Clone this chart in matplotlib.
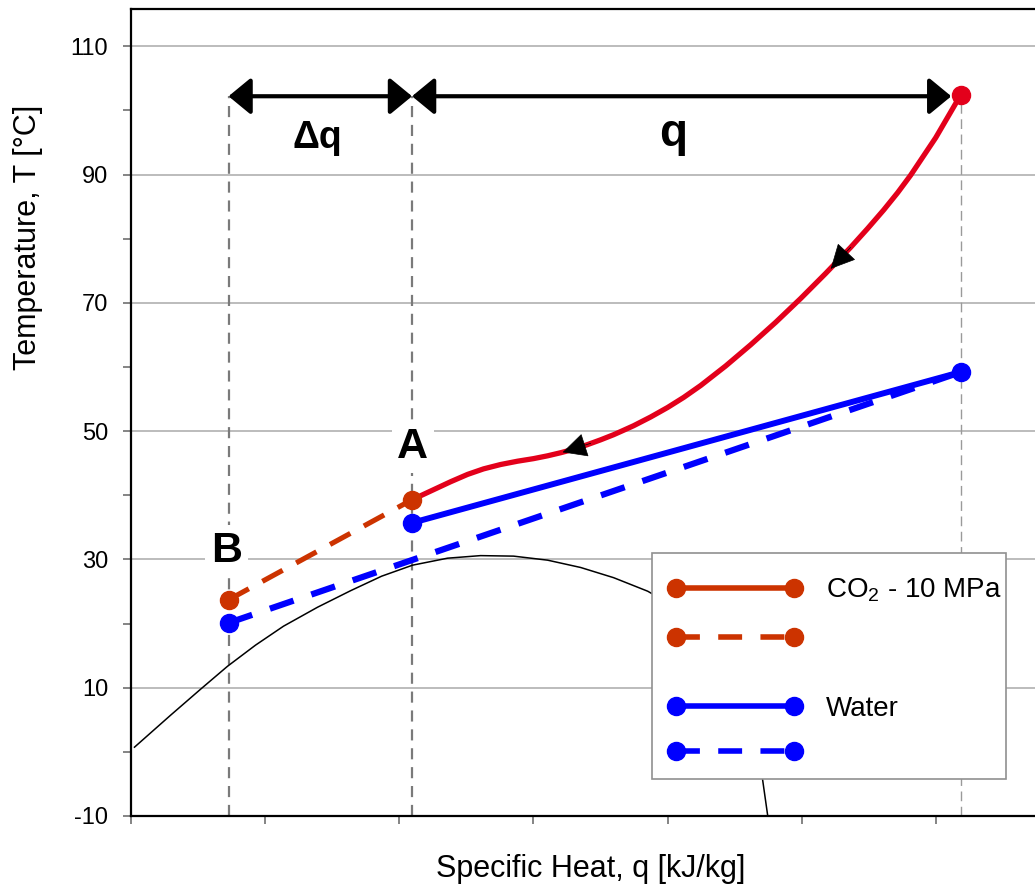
import matplotlib
matplotlib.use('Agg')
import matplotlib.pyplot as plt
from matplotlib.lines import Line2D
from matplotlib.patches import Rectangle

plt.rcParams['font.family'] = ['Liberation Sans', 'DejaVu Sans']
plt.rcParams['mathtext.fontset'] = 'custom'
plt.rcParams['mathtext.rm'] = 'Liberation Sans'
plt.rcParams['mathtext.it'] = 'Liberation Sans:italic'
plt.rcParams['mathtext.bf'] = 'Liberation Sans:bold'
plt.rcParams['axes.unicode_minus'] = False

# ---- data ----
# specific heat positions of state B, state A and the inlet state
state_q = [0.727, 2.095, 6.185]
co2_T = [23.7, 39.3, 102.4]      # CO2 temperatures at B, A, inlet
water_T = [20.1, 35.7, 59.2]     # water temperatures at B, A, inlet

# CO2 cooling curve (A -> inlet)
co2_curve_q = [2.095, 2.256, 2.383, 2.509, 2.628, 2.755, 2.882, 3.001, 3.106,
               3.203, 3.307, 3.404, 3.501, 3.598, 3.673, 3.747, 3.874, 4.000,
               4.120, 4.247, 4.433, 4.619, 4.806, 4.992, 5.178, 5.365, 5.491,
               5.611, 5.715, 5.812, 5.999, 6.185]
co2_curve_T = [39.3, 40.87, 42.11, 43.25, 44.11, 44.79, 45.31, 45.71, 46.15,
               46.63, 47.21, 47.90, 48.64, 49.44, 50.14, 50.84, 52.20, 53.68,
               55.25, 57.11, 60.15, 63.45, 66.96, 70.67, 74.57, 78.65, 81.57,
               84.47, 87.16, 89.89, 95.74, 102.4]

# saturation dome
dome_q = [0.026, 0.295, 0.519, 0.720, 0.928, 1.137, 1.391, 1.637, 1.868,
          2.099, 2.360, 2.606, 2.852, 3.106, 3.352, 3.598, 3.852, 4.098,
          4.321, 4.545, 4.657, 4.709, 4.746]
dome_T = [0.73, 5.71, 9.77, 13.35, 16.63, 19.59, 22.55, 25.12, 27.38,
          29.10, 30.19, 30.59, 30.51, 29.88, 28.74, 27.15, 25.04, 22.08,
          17.87, 10.39, 3.37, -4.42, -9.88]

# flow-direction arrows on the CO2 curve: (tip q, tip T, tail q, tail T)
flow_arrows = [(3.218, 46.7, 3.427, 48.1), (5.216, 75.3, 5.365, 78.65)]

arrow_T = 102.2
y_major = list(range(-10, 111, 20))
y_minor = list(range(0, 101, 20))
x_ticks = list(range(0, 7))

RED = '#e3001b'
ORANGE = '#cc3300'
BLUE = '#0000ff'

fig = plt.figure(figsize=(10.35, 8.84), dpi=100)
fig.patch.set_facecolor('white')
ax = fig.add_axes([131/1035, 68/884, (1070-131)/1035, 807/884])
ax.set_xlim(0, 7.0)
ax.set_ylim(-10, 115.8)

ax.set_xticks(x_ticks)
ax.set_yticks(y_major)
ax.set_yticks(y_minor, minor=True)
ax.tick_params(axis='both', which='both', direction='out', length=6,
               width=1.2, color='#707070', labelsize=17, pad=10.5)
ax.tick_params(axis='x', labelbottom=False)
for s in ['left', 'bottom', 'top']:
    ax.spines[s].set_linewidth(1.6)
    ax.spines[s].set_color('black')
ax.spines['right'].set_visible(False)
ax.grid(axis='y', which='major', color='#b0b0b0', lw=1.2)
ax.set_axisbelow(True)

# vertical guide lines
ax.vlines(state_q[:2], -10, arrow_T, colors='#7a7a7a',
          linestyles=(0, (5, 3.5)), lw=1.6, zorder=2)
ax.vlines(state_q[2], -10, co2_T[2], colors='#9a9a9a',
          linestyles=(0, (7, 4)), lw=1.0, zorder=2)

# saturation dome
ax.plot(dome_q, dome_T, color='black', lw=1.1, zorder=3)

# dashed extensions
ax.plot([state_q[0], state_q[2]], [water_T[0], water_T[2]], color=BLUE,
        lw=4.5, ls=(0, (4, 3)), zorder=4)
ax.plot(state_q[:2], co2_T[:2], color=ORANGE, lw=3.7, ls=(0, (4.5, 3)), zorder=4)

# solid lines
ax.plot(state_q[1:], water_T[1:], color=BLUE, lw=4.3, zorder=5)
ax.plot(co2_curve_q, co2_curve_T, color=RED, lw=3.8, zorder=6,
        solid_capstyle='round', solid_joinstyle='round')

# markers
ax.plot(state_q, water_T, 'o', color=BLUE, ms=13, zorder=7)
ax.plot(state_q[:2], co2_T[:2], 'o', color=ORANGE, ms=13, zorder=7)
ax.plot(state_q[2:], co2_T[2:], 'o', color=RED, ms=13, zorder=7)

# flow-direction arrowheads
for tq, tT, sq, sT in flow_arrows:
    ax.annotate('', xy=(tq, tT), xytext=(sq, sT),
                arrowprops=dict(arrowstyle='-|>,head_length=0.8,head_width=0.4',
                                mutation_scale=20, color='black', lw=0.5,
                                shrinkA=0, shrinkB=0), zorder=8)

# dimension arrows
for q0, q1 in [(state_q[0], state_q[1]), (state_q[1], 6.115)]:
    ax.annotate('', xy=(q0, arrow_T), xytext=(q1, arrow_T),
                arrowprops=dict(arrowstyle='<|-|>,head_length=0.68,head_width=0.56',
                                mutation_scale=20, color='black', lw=3,
                                shrinkA=0, shrinkB=0), zorder=8)

box = dict(facecolor='white', edgecolor='none', pad=4)
ax.text(1.39, 94.1, 'Δq', fontsize=27, fontweight='bold', ha='center',
        va='baseline', bbox=box, zorder=9)
ax.text(4.04, 94.4, 'q', fontsize=33, fontweight='bold', ha='center',
        va='baseline', bbox=box, zorder=9)
ax.text(2.1, 47.5, 'A', fontsize=31, fontweight='bold', ha='center',
        va='center', bbox=box, zorder=9)
ax.text(0.712, 31.3, 'B', fontsize=31, fontweight='bold', ha='center',
        va='center', bbox=box, zorder=9)

ax.set_ylabel('Temperature, T [°C]', fontsize=22)
ax.yaxis.set_label_coords(-0.094, 0.7175)
ax.set_xlabel('Specific Heat, q [kJ/kg]', fontsize=22)
ax.xaxis.set_label_coords(0.49, -0.047)

# legend: one frame holding two groups of entries
frame = Rectangle(((652-131)/939, (816-779)/807), (1006-652)/939, (779-553)/807,
                  transform=ax.transAxes, facecolor='white', edgecolor='#909090',
                  lw=1.2, zorder=9)
ax.add_patch(frame)

dash_leg = (0, (4.3, 3.3))
co2_handles = [Line2D([], [], color=ORANGE, lw=4, marker='o', ms=13),
               Line2D([], [], color=ORANGE, lw=4, ls=dash_leg, marker='o', ms=13)]
water_handles = [Line2D([], [], color=BLUE, lw=4, marker='o', ms=13),
                 Line2D([], [], color=BLUE, lw=4, ls=dash_leg, marker='o', ms=13)]
leg_kw = dict(numpoints=2, loc='center left', borderaxespad=0, borderpad=0,
              fontsize=20, handlelength=4.845, handletextpad=0.85,
              frameon=False)
leg1 = ax.legend(co2_handles, ['CO$_{\\mathregular{2}}$ - 10 MPa', ''],
                 bbox_to_anchor=((667.7-131)/939, (816-614.5)/807),
                 labelspacing=0.8, **leg_kw)
leg1.set_zorder(10)
ax.add_artist(leg1)
leg2 = ax.legend(water_handles, ['Water', ''],
                 bbox_to_anchor=((667.7-131)/939, (816-731)/807),
                 labelspacing=0.68, **leg_kw)
leg2.set_zorder(10)

fig.savefig('out.png', dpi=100, facecolor='white')
